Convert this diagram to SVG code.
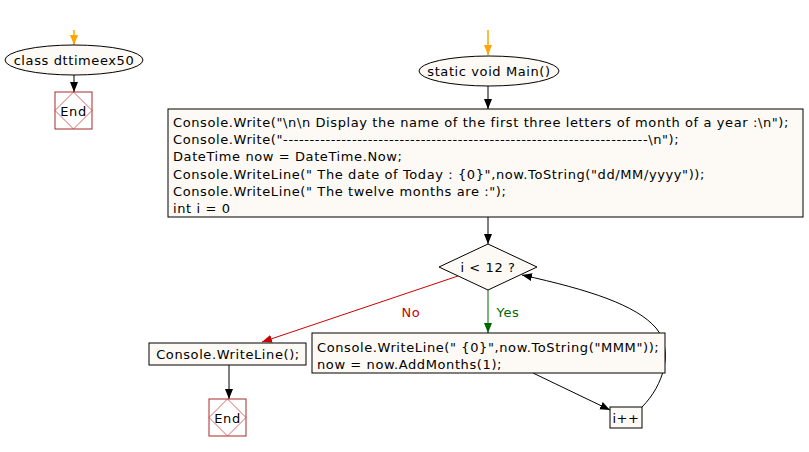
<svg xmlns="http://www.w3.org/2000/svg" width="809" height="452" viewBox="0 0 809 452">
<style>
text{font-family:"DejaVu Sans","Liberation Sans",sans-serif;font-size:13px;letter-spacing:0.6px;fill:#000}
.c{text-anchor:middle;dominant-baseline:central}
.node{fill:#fdfaf5;stroke:#000;stroke-width:1}
.endbox{fill:#fff;stroke:#a52a2a;stroke-width:1}
.endd{fill:none;stroke:#d04040;stroke-width:0.8}
.ln{fill:none;stroke:#000;stroke-width:1}
</style>
<defs>
<marker id="ab" viewBox="0 0 10 10" refX="10" refY="5" markerWidth="10" markerHeight="10" markerUnits="userSpaceOnUse" orient="auto"><path d="M0,1 L10,5 L0,9 z" fill="#000"/></marker>
<marker id="ao" viewBox="0 0 10 10" refX="10" refY="5" markerWidth="10" markerHeight="10" markerUnits="userSpaceOnUse" orient="auto"><path d="M0,1 L10,5 L0,9 z" fill="#ffa500"/></marker>
<marker id="ar" viewBox="0 0 10 10" refX="10" refY="5" markerWidth="10" markerHeight="10" markerUnits="userSpaceOnUse" orient="auto"><path d="M0,1 L10,5 L0,9 z" fill="#cc0000"/></marker>
<marker id="ag" viewBox="0 0 10 10" refX="10" refY="5" markerWidth="10" markerHeight="10" markerUnits="userSpaceOnUse" orient="auto"><path d="M0,1 L10,5 L0,9 z" fill="#006600"/></marker>
</defs>

<g id="connectors">
<line x1="74" y1="30" x2="74" y2="45" stroke="#ffa500" stroke-width="1.5" marker-end="url(#ao)"/>
<line class="ln" x1="74" y1="75" x2="74" y2="92" marker-end="url(#ab)"/>
<line x1="488" y1="30" x2="488" y2="55" stroke="#ffa500" stroke-width="1.5" marker-end="url(#ao)"/>
<line class="ln" x1="488" y1="86" x2="488" y2="109" marker-end="url(#ab)"/>
<line class="ln" x1="488" y1="217" x2="488" y2="244" marker-end="url(#ab)"/>
<line x1="458" y1="276" x2="262" y2="342" stroke="#cc0000" stroke-width="1" marker-end="url(#ar)"/>
<line x1="488" y1="290" x2="488" y2="333" stroke="#006600" stroke-width="1" marker-end="url(#ag)"/>
<line class="ln" x1="229" y1="365" x2="229" y2="399" marker-end="url(#ab)"/>
<line class="ln" x1="533" y1="373" x2="610" y2="410" marker-end="url(#ab)"/>
<path class="ln" d="M642,407 C664,385 674,350 656,328 C636,305 590,290 522,275" marker-end="url(#ab)"/>
<text class="c" x="411" y="312" style="fill:#cc0000">No</text>
<text class="c" x="508" y="312" style="fill:#006600">Yes</text>
</g>

<g id="class-node">
<ellipse class="node" cx="74" cy="60" rx="69" ry="15"/>
<text class="c" x="74" y="60">class dttimeex50</text>
</g>

<g id="end1">
<rect class="endbox" x="55" y="92" width="37" height="37"/>
<polygon class="endd" points="73.5,92 92,110.5 73.5,129 55,110.5"/>
<text class="c" x="73.5" y="111">End</text>
</g>

<g id="main-node">
<ellipse class="node" cx="489" cy="71" rx="70" ry="15"/>
<text class="c" x="489" y="71">static void Main()</text>
</g>

<g id="init-block">
<rect class="node" x="168" y="109" width="635" height="108"/>
<text x="173" y="127">Console.Write("\n\n Display the name of the first three letters of month of a year :\n");</text>
<text x="173" y="144">Console.Write("---------------------------------------------------------------------\n");</text>
<text x="173" y="161">DateTime now = DateTime.Now;</text>
<text x="173" y="179">Console.WriteLine(" The date of Today : {0}",now.ToString("dd/MM/yyyy"));</text>
<text x="173" y="196">Console.WriteLine(" The twelve months are :");</text>
<text x="173" y="213">int i = 0</text>
</g>

<g id="cond">
<polygon class="node" points="488,244 537,267 488,290 439,267"/>
<text class="c" x="488" y="267">i &lt; 12 ?</text>
</g>

<g id="writeline">
<rect class="node" x="149" y="343" width="157" height="22"/>
<text class="c" x="228" y="354">Console.WriteLine();</text>
</g>

<g id="end2">
<rect class="endbox" x="209" y="399" width="37" height="37"/>
<polygon class="endd" points="227.5,399 246,417.5 227.5,436 209,417.5"/>
<text class="c" x="227.5" y="418">End</text>
</g>

<g id="body">
<rect class="node" x="312" y="333" width="353" height="40"/>
<text x="317" y="352">Console.WriteLine(" {0}",now.ToString("MMM"));</text>
<text x="317" y="369">now = now.AddMonths(1);</text>
</g>

<g id="inc">
<rect class="node" x="610" y="407" width="32" height="21"/>
<text class="c" x="626" y="418">i++</text>
</g>
</svg>
